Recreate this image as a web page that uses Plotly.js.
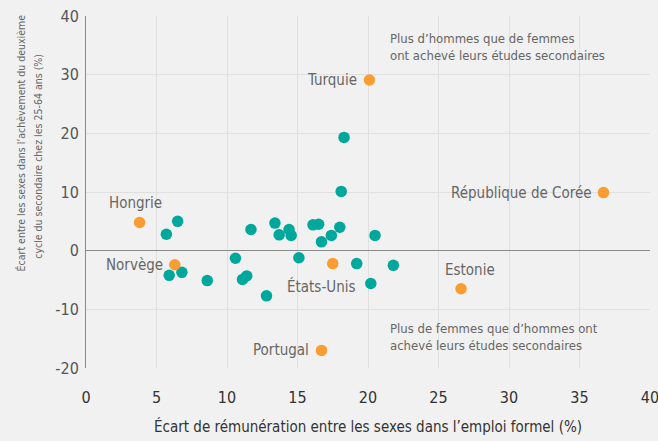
<!DOCTYPE html>
<html>
<head>
<meta charset="utf-8">
<script src="https://cdn.plot.ly/plotly-3.0.1.min.js"></script>
<style>html,body{margin:0;padding:0;background:#f1f1f1;}#chart{width:658px;height:441px;}</style>
</head>
<body>
<div id="chart"></div>
<script>
// Other countries (teal)
const otherX = [6.5, 5.7, 11.7, 13.4, 13.7, 14.4, 14.55, 16.1, 16.5, 18.0, 17.4, 16.7, 20.5, 10.6, 15.1, 19.2, 21.8, 20.2, 5.9, 6.8, 8.6, 11.1, 11.4, 12.8, 18.3, 18.1];
const otherY = [5.0, 2.8, 3.6, 4.7, 2.7, 3.6, 2.6, 4.4, 4.5, 4.0, 2.6, 1.5, 2.6, -1.3, -1.2, -2.2, -2.5, -5.6, -4.2, -3.7, -5.1, -4.9, -4.3, -7.7, 19.3, 10.1];
// Highlighted countries (orange)
const hlNames = ["Hongrie", "Norvège", "États-Unis", "Turquie", "République de Corée", "Estonie", "Portugal"];
const hlX = [3.8, 6.3, 17.5, 20.1, 36.7, 26.6, 16.7];
const hlY = [4.8, -2.4, -2.2, 29.1, 9.9, -6.5, -17.0];
// Axis ticks
const xTickVals = [0, 5, 10, 15, 20, 25, 30, 35, 40];
const xTickText = ["0", "5", "10", "15", "20", "25", "30", "35", "40"];
const yTickVals = [-20, -10, 0, 10, 20, 30, 40];
const yTickText = ["-20", "-10", "0", "10", "20", "30", "40"];
const quadTop = "Plus d’hommes que de femmes<br>ont achevé leurs études secondaires";
const quadBottom = "Plus de femmes que d’hommes ont<br>achevé leurs études secondaires";
const xTitle = "Écart de rémunération entre les sexes dans l’emploi formel (%)";
const yTitleLines = ["Écart entre les sexes dans l’achèvement du deuxième", "cycle du secondaire chez les 25-64 ans (%)"];

const FONT = "'Liberation Sans Narrow', 'DejaVu Sans Condensed', 'Roboto', sans-serif";
const teal = "#00a89c";
const orange = "#f99d33";

// label placement (styling)
const labelPos = {
  "Hongrie": {xanchor: "center", xshift: -4, yshift: 20},
  "Norvège": {xanchor: "right", xshift: -10, yshift: 0},
  "États-Unis": {xanchor: "center", xshift: -11, yshift: -23},
  "Turquie": {xanchor: "right", xshift: -10, yshift: 0},
  "République de Corée": {xanchor: "right", xshift: -9, yshift: 0},
  "Estonie": {xanchor: "center", xshift: 9, yshift: 19},
  "Portugal": {xanchor: "right", xshift: -10, yshift: 0}
};

const annotations = hlNames.map((n, i) => Object.assign({
  x: hlX[i], y: hlY[i], xref: "x", yref: "y", text: n, showarrow: false,
  yanchor: "middle", font: {family: FONT, size: 15, color: "#666666"}
}, labelPos[n]));

annotations.push({x: 21.4, y: 34.7, xref: "x", yref: "y", text: quadTop, showarrow: false,
  xanchor: "left", yanchor: "middle", align: "left",
  font: {family: FONT, size: 13, color: "#666666"}});
annotations.push({x: 21.4, y: -14.8, xref: "x", yref: "y", text: quadBottom, showarrow: false,
  xanchor: "left", yanchor: "middle", align: "left",
  font: {family: FONT, size: 13, color: "#666666"}});
// y-axis title, two lines
const yTitleShift = [-65, -48];
const yTitleY = [0.638, 0.60];
yTitleLines.forEach((t, i) => annotations.push({x: 0, y: yTitleY[i], xref: "paper", yref: "paper",
  xshift: yTitleShift[i], text: t, showarrow: false, textangle: -90,
  xanchor: "center", yanchor: "middle",
  font: {family: FONT, size: 10.5, color: "#666666"}}));

const traces = [
  {type: "scatter", mode: "markers", x: otherX, y: otherY, hoverinfo: "skip",
   marker: {color: teal, size: 11.5}},
  {type: "scatter", mode: "markers", x: hlX, y: hlY, text: hlNames, hoverinfo: "text",
   marker: {color: orange, size: 11.5}}
];

const layout = {
  width: 658, height: 441,
  margin: {l: 86, r: 8, t: 16, b: 73},
  paper_bgcolor: "#f1f1f1", plot_bgcolor: "#f1f1f1",
  showlegend: false,
  font: {family: FONT},
  xaxis: {range: [0, 40], tickmode: "array", tickvals: xTickVals, ticktext: xTickText,
    showgrid: true, gridcolor: "#e0e0e0", gridwidth: 1, ticklabeloverflow: "allow",
    zeroline: false, showline: false, ticks: "outside", ticklen: 15, tickcolor: "rgba(0,0,0,0)",
    tickfont: {family: FONT, size: 16, color: "#333333"},
    title: {text: xTitle, font: {family: FONT, size: 15, color: "#333333"}, standoff: 15}},
  yaxis: {range: [-20, 40], tickmode: "array", tickvals: yTickVals, ticktext: yTickText,
    showgrid: true, gridcolor: "#e0e0e0", gridwidth: 1,
    zeroline: true, zerolinecolor: "#8a8a8a", zerolinewidth: 1,
    showline: true, linecolor: "#8a8a8a", linewidth: 1,
    ticks: "outside", ticklen: 3, tickcolor: "rgba(0,0,0,0)",
    tickfont: {family: FONT, size: 16, color: "#555555"}},
  annotations: annotations
};

Plotly.newPlot("chart", traces, layout, {displayModeBar: false, staticPlot: true});
</script>
</body>
</html>
